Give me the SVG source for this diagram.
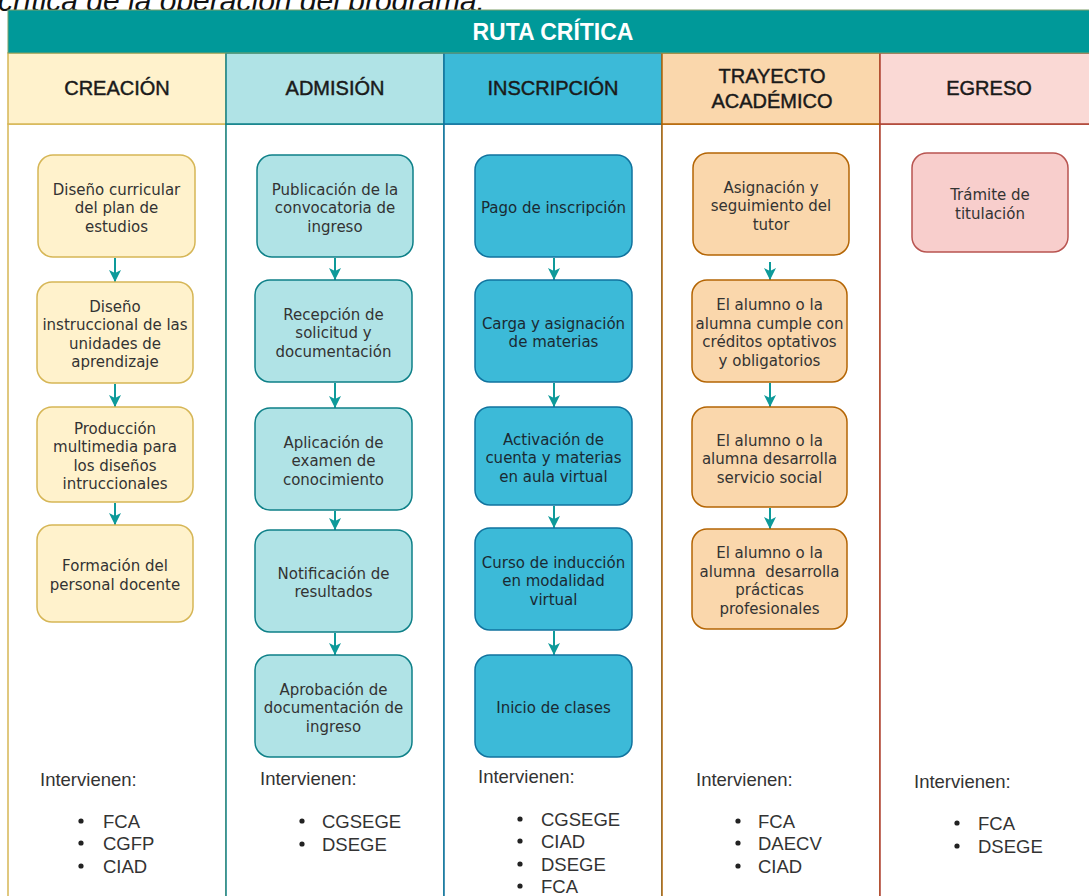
<svg xmlns="http://www.w3.org/2000/svg" width="1089" height="896" viewBox="0 0 1089 896">
<style>
.cap{font-family:"Liberation Sans",Arial,sans-serif;font-style:italic;font-size:30px;fill:#111}
.title{font-family:"Liberation Sans",Arial,sans-serif;font-weight:bold;font-size:23px;fill:#fff}
.hd{font-family:"Liberation Sans",Arial,sans-serif;font-size:20px;fill:#1a1a1a;stroke:#1a1a1a;stroke-width:0.45}
.nt{font-family:"DejaVu Sans",Verdana,sans-serif;font-size:15px;fill:#333;text-anchor:middle}
.nt3{fill:#1a2a33}
.lst{font-family:"Liberation Sans",Arial,sans-serif;font-size:18.5px;fill:#333}
.c1{fill:#fff2cc;stroke:#d6b656;stroke-width:1.5}
.c2{fill:#b0e3e6;stroke:#0e8088;stroke-width:1.5}
.c3{fill:#3cbad8;stroke:#10739e;stroke-width:1.5}
.c4{fill:#fad7ac;stroke:#b46504;stroke-width:1.5}
.c5{fill:#f8cecc;stroke:#b85450;stroke-width:1.5}
.b1{fill:#fff;stroke:#d6b656;stroke-width:1.5}
.b2{fill:#fff;stroke:#0e8088;stroke-width:1.5}
.b3{fill:#fff;stroke:#10739e;stroke-width:1.5}
.b4{fill:#fff;stroke:#b46504;stroke-width:1.5}
.b5{fill:#fff;stroke:#ae4132;stroke-width:1.5}
.h5{fill:#fad9d5;stroke:#ae4132;stroke-width:1.5}
.arr{stroke:#0e9a9a;stroke-width:2;fill:none;marker-end:url(#ah)}
.bul{fill:#222}
</style>
<defs>
<marker id="ah" markerUnits="userSpaceOnUse" markerWidth="14" markerHeight="14" refX="12" refY="7" orient="auto">
<path d="M0,1 L12,7 L0,13 L3,7 z" fill="#0e9a9a"/>
</marker>
</defs>
<rect width="1089" height="896" fill="#fff"/>
<text class="cap" x="-2" y="11">crítica de la operación del programa.</text>

<g id="lanes">
<g id="lane-creacion">
<rect class="b1" x="8" y="124" width="218" height="790"/>
<rect class="c1" x="8" y="53" width="218" height="71"/>
<text class="hd" x="117" y="95" text-anchor="middle">CREACIÓN</text>
</g>
<g id="lane-admision">
<rect class="b2" x="226" y="124" width="218" height="790"/>
<rect class="c2" x="226" y="53" width="218" height="71"/>
<text class="hd" x="335" y="95" text-anchor="middle">ADMISIÓN</text>
</g>
<g id="lane-inscripcion">
<rect class="b3" x="444" y="124" width="218" height="790"/>
<rect class="c3" x="444" y="53" width="218" height="71"/>
<text class="hd" x="553" y="95" text-anchor="middle">INSCRIPCIÓN</text>
</g>
<g id="lane-trayecto">
<rect class="b4" x="662" y="124" width="218" height="790"/>
<rect class="c4" x="662" y="53" width="218" height="71"/>
<text class="hd" x="772" y="83" text-anchor="middle">TRAYECTO</text>
<text class="hd" x="772" y="108" text-anchor="middle">ACADÉMICO</text>
</g>
<g id="lane-egreso">
<rect class="b5" x="880" y="124" width="230" height="790"/>
<rect class="h5" x="880" y="53" width="230" height="71"/>
<text class="hd" x="989" y="95" text-anchor="middle">EGRESO</text>
</g>
<g id="title">
<rect x="8" y="10" width="1100" height="43" fill="#009999" stroke="#7f9f6a" stroke-width="1"/>
<text class="title" x="553" y="40" text-anchor="middle">RUTA CRÍTICA</text>
</g>
</g>

<g id="connectors">
<path class="arr" d="M115,258 V282"/>
<path class="arr" d="M115,384 V407"/>
<path class="arr" d="M115,503 V525"/>
<path class="arr" d="M335,258 V280"/>
<path class="arr" d="M335,383 V408"/>
<path class="arr" d="M335,511 V530"/>
<path class="arr" d="M335,633 V655"/>
<path class="arr" d="M554,258 V280"/>
<path class="arr" d="M554,383 V407"/>
<path class="arr" d="M554,506 V528"/>
<path class="arr" d="M554,631 V655"/>
<path class="arr" d="M770,262 V280"/>
<path class="arr" d="M770,383 V407"/>
<path class="arr" d="M770,508 V529"/>
</g>

<g id="n1"><rect class="c1" x="38" y="155" width="157" height="102" rx="15"/>
<text class="nt"><tspan x="116.5" y="194.5">Diseño curricular</tspan><tspan x="116.5" y="213">del plan de</tspan><tspan x="116.5" y="231.5">estudios</tspan></text></g>
<g id="n2"><rect class="c1" x="37" y="282" width="156" height="101" rx="15"/>
<text class="nt"><tspan x="115" y="311.75">Diseño</tspan><tspan x="115" y="330.25">instruccional de las</tspan><tspan x="115" y="348.75">unidades de</tspan><tspan x="115" y="367.25">aprendizaje</tspan></text></g>
<g id="n3"><rect class="c1" x="37" y="407" width="156" height="95" rx="15"/>
<text class="nt"><tspan x="115" y="433.75">Producción</tspan><tspan x="115" y="452.25">multimedia para</tspan><tspan x="115" y="470.75">los diseños</tspan><tspan x="115" y="489.25">intruccionales</tspan></text></g>
<g id="n4"><rect class="c1" x="37" y="525" width="156" height="97" rx="15"/>
<text class="nt"><tspan x="115" y="571.25">Formación del</tspan><tspan x="115" y="589.75">personal docente</tspan></text></g>

<g id="a1"><rect class="c2" x="257" y="155" width="156" height="102" rx="15"/>
<text class="nt"><tspan x="335" y="194.5">Publicación de la</tspan><tspan x="335" y="213">convocatoria de</tspan><tspan x="335" y="231.5">ingreso</tspan></text></g>
<g id="a2"><rect class="c2" x="255" y="280" width="157" height="102" rx="15"/>
<text class="nt"><tspan x="333.5" y="319.5">Recepción de</tspan><tspan x="333.5" y="338">solicitud y</tspan><tspan x="333.5" y="356.5">documentación</tspan></text></g>
<g id="a3"><rect class="c2" x="255" y="408" width="157" height="102" rx="15"/>
<text class="nt"><tspan x="333.5" y="447.5">Aplicación de</tspan><tspan x="333.5" y="466">examen de</tspan><tspan x="333.5" y="484.5">conocimiento</tspan></text></g>
<g id="a4"><rect class="c2" x="255" y="530" width="157" height="102" rx="15"/>
<text class="nt"><tspan x="333.5" y="578.75">Notificación de</tspan><tspan x="333.5" y="597.25">resultados</tspan></text></g>
<g id="a5"><rect class="c2" x="255" y="655" width="157" height="102" rx="15"/>
<text class="nt"><tspan x="333.5" y="694.5">Aprobación de</tspan><tspan x="333.5" y="713">documentación de</tspan><tspan x="333.5" y="731.5">ingreso</tspan></text></g>

<g id="i1"><rect class="c3" x="475" y="155" width="157" height="102" rx="15"/>
<text class="nt nt3"><tspan x="553.5" y="213">Pago de inscripción</tspan></text></g>
<g id="i2"><rect class="c3" x="475" y="280" width="157" height="102" rx="15"/>
<text class="nt nt3"><tspan x="553.5" y="328.75">Carga y asignación</tspan><tspan x="553.5" y="347.25">de materias</tspan></text></g>
<g id="i3"><rect class="c3" x="475" y="407" width="157" height="98" rx="15"/>
<text class="nt nt3"><tspan x="553.5" y="444.5">Activación de</tspan><tspan x="553.5" y="463">cuenta y materias</tspan><tspan x="553.5" y="481.5">en aula virtual</tspan></text></g>
<g id="i4"><rect class="c3" x="475" y="528" width="157" height="102" rx="15"/>
<text class="nt nt3"><tspan x="553.5" y="567.5">Curso de inducción</tspan><tspan x="553.5" y="586">en modalidad</tspan><tspan x="553.5" y="604.5">virtual</tspan></text></g>
<g id="i5"><rect class="c3" x="475" y="655" width="157" height="102" rx="15"/>
<text class="nt nt3"><tspan x="553.5" y="713">Inicio de clases</tspan></text></g>

<g id="t1"><rect class="c4" x="693" y="153" width="156" height="102" rx="15"/>
<text class="nt"><tspan x="771" y="192.5">Asignación y</tspan><tspan x="771" y="211">seguimiento del</tspan><tspan x="771" y="229.5">tutor</tspan></text></g>
<g id="t2"><rect class="c4" x="692" y="280" width="155" height="102" rx="15"/>
<text class="nt"><tspan x="769.5" y="310.25">El alumno o la</tspan><tspan x="769.5" y="328.75">alumna cumple con</tspan><tspan x="769.5" y="347.25">créditos optativos</tspan><tspan x="769.5" y="365.75">y obligatorios</tspan></text></g>
<g id="t3"><rect class="c4" x="692" y="407" width="155" height="100" rx="15"/>
<text class="nt"><tspan x="769.5" y="445.5">El alumno o la</tspan><tspan x="769.5" y="464">alumna desarrolla</tspan><tspan x="769.5" y="482.5">servicio social</tspan></text></g>
<g id="t4"><rect class="c4" x="692" y="529" width="155" height="100" rx="15"/>
<text class="nt" xml:space="preserve"><tspan x="769.5" y="558.25">El alumno o la</tspan><tspan x="769.5" y="576.75">alumna  desarrolla</tspan><tspan x="769.5" y="595.25">prácticas</tspan><tspan x="769.5" y="613.75">profesionales</tspan></text></g>

<g id="e1"><rect class="c5" x="912" y="153" width="156" height="99" rx="15"/>
<text class="nt"><tspan x="990" y="200.25">Trámite de</tspan><tspan x="990" y="218.75">titulación</tspan></text></g>

<g id="list1">
<text class="lst" x="40" y="786">Intervienen:</text>
<circle class="bul" cx="81" cy="821" r="2.6"/><text class="lst" x="103" y="827.5">FCA</text>
<circle class="bul" cx="81" cy="843" r="2.6"/><text class="lst" x="103" y="849.5">CGFP</text>
<circle class="bul" cx="81" cy="866" r="2.6"/><text class="lst" x="103" y="872.5">CIAD</text>
</g>
<g id="list2">
<text class="lst" x="260" y="785">Intervienen:</text>
<circle class="bul" cx="302" cy="821" r="2.6"/><text class="lst" x="322" y="827.5">CGSEGE</text>
<circle class="bul" cx="302" cy="844" r="2.6"/><text class="lst" x="322" y="850.5">DSEGE</text>
</g>
<g id="list3">
<text class="lst" x="478" y="783">Intervienen:</text>
<circle class="bul" cx="520" cy="819" r="2.6"/><text class="lst" x="541" y="825.5">CGSEGE</text>
<circle class="bul" cx="520" cy="841" r="2.6"/><text class="lst" x="541" y="847.5">CIAD</text>
<circle class="bul" cx="520" cy="864" r="2.6"/><text class="lst" x="541" y="870.5">DSEGE</text>
<circle class="bul" cx="520" cy="886" r="2.6"/><text class="lst" x="541" y="892.5">FCA</text>
</g>
<g id="list4">
<text class="lst" x="696" y="786">Intervienen:</text>
<circle class="bul" cx="738" cy="821" r="2.6"/><text class="lst" x="758" y="827.5">FCA</text>
<circle class="bul" cx="738" cy="843" r="2.6"/><text class="lst" x="758" y="849.5">DAECV</text>
<circle class="bul" cx="738" cy="866" r="2.6"/><text class="lst" x="758" y="872.5">CIAD</text>
</g>
<g id="list5">
<text class="lst" x="914" y="788">Intervienen:</text>
<circle class="bul" cx="957" cy="823" r="2.6"/><text class="lst" x="978" y="829.5">FCA</text>
<circle class="bul" cx="957" cy="846" r="2.6"/><text class="lst" x="978" y="852.5">DSEGE</text>
</g>
</svg>
